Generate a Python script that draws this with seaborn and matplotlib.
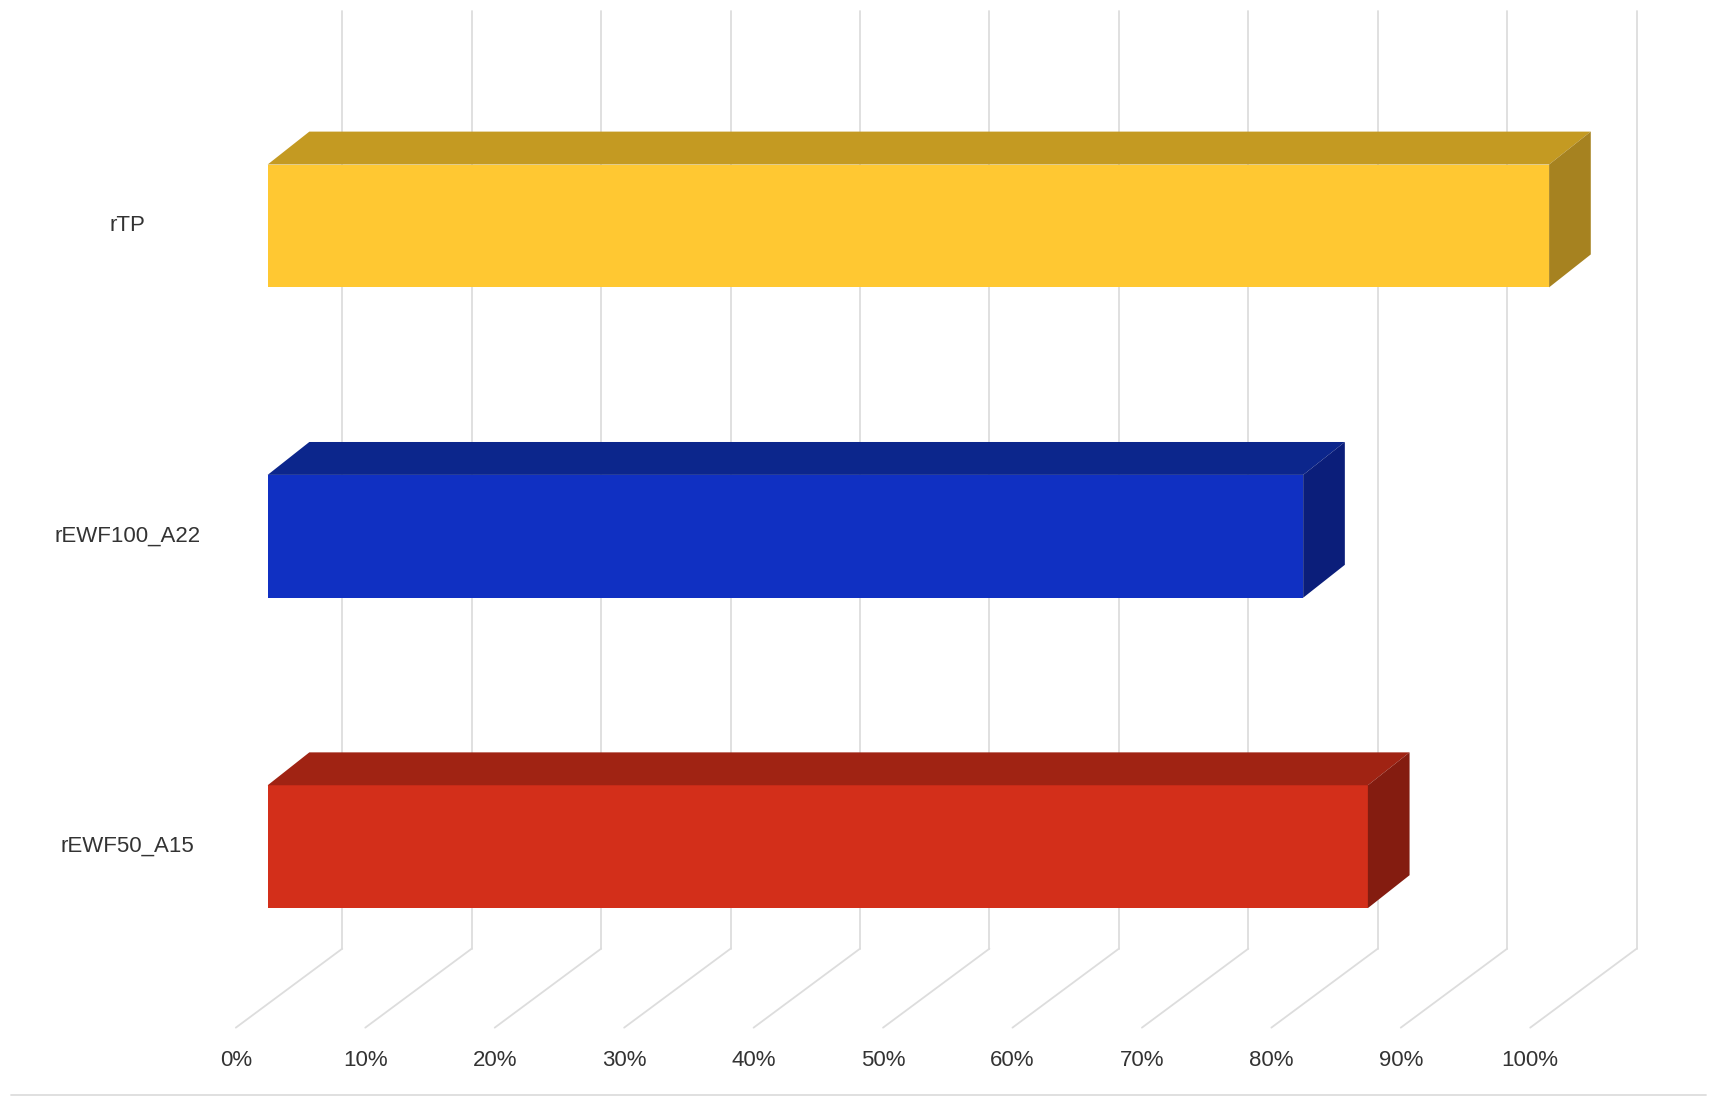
import matplotlib
matplotlib.use("Agg")
import matplotlib.pyplot as plt
import seaborn as sns
import pandas as pd

categories = ["rTP", "rEWF100_A22", "rEWF50_A15"]
values = [99, 80, 85]
ticks = [0, 10, 20, 30, 40, 50, 60, 70, 80, 90, 100]
tick_labels = [f"{t}%" for t in ticks]
front_colors = ["#FFC832", "#1030C2", "#D32F1A"]
top_colors = ["#C49A22", "#0C268C", "#A02313"]
side_colors = ["#A68220", "#0B1E7A", "#841C10"]

sns.set_theme(style="white")
plt.rcParams['font.family'] = ['Liberation Sans', 'DejaVu Sans']

fig = plt.figure(figsize=(17.2, 11.11), dpi=100)
ax = fig.add_axes([0, 0, 1, 1])
W, H = 1568, 1013
pxpct = 11.8
x0 = 244
def px2x(p): return (p - x0) / pxpct
def py2y(p): return (p - 206) / 283.0

ax.set_xlim(px2x(0), px2x(W))
ax.set_ylim(py2y(H), py2y(0))
ax.axis("off")

# walls / floor
back_dx, front_dx = px2x(312), px2x(215)
for t in ticks:
    ax.plot([t + back_dx, t + back_dx], [py2y(10), py2y(865)], color="#DDDDDD", lw=1.3, zorder=0)
    ax.plot([t + front_dx, t + back_dx], [py2y(937), py2y(865)], color="#DDDDDD", lw=1.3, zorder=0)
for t, lab in zip(ticks, tick_labels):
    ax.text(t + front_dx, py2y(967), lab, ha="center", va="center", fontsize=16, color="#333333")
ax.plot([px2x(10), px2x(1555)], [py2y(998), py2y(998)], color="#DDDDDD", lw=1.3)

df = pd.DataFrame({"cat": categories, "val": values})
sns.barplot(data=df, x="val", y="cat", hue="cat", palette=front_colors, orient="h",
            width=112 / 283.0, ax=ax, legend=False, zorder=3, saturation=1)
ax.set_xlim(px2x(0), px2x(W))
ax.set_ylim(py2y(H), py2y(0))
ax.axis("off")

ddx = 38 / pxpct
ddy = -30 / 283.0
for i, p in enumerate(ax.patches):
    xl, yt = p.get_x(), p.get_y()
    w, h = p.get_width(), p.get_height()
    xr = xl + w
    ytop, ybot = yt, yt + h
    ax.fill([xl, xr, xr + ddx, xl + ddx], [ytop, ytop, ytop + ddy, ytop + ddy],
            color=top_colors[i], zorder=3, lw=0)
    ax.fill([xr, xr + ddx, xr + ddx, xr], [ytop, ytop + ddy, ybot + ddy, ybot],
            color=side_colors[i], zorder=3, lw=0)
    p.set_linewidth(0)

for i, c in enumerate(categories):
    ax.text(px2x(116), i, c, ha="center", va="center", fontsize=16, color="#333333")

fig.savefig("out.png", dpi=100)
